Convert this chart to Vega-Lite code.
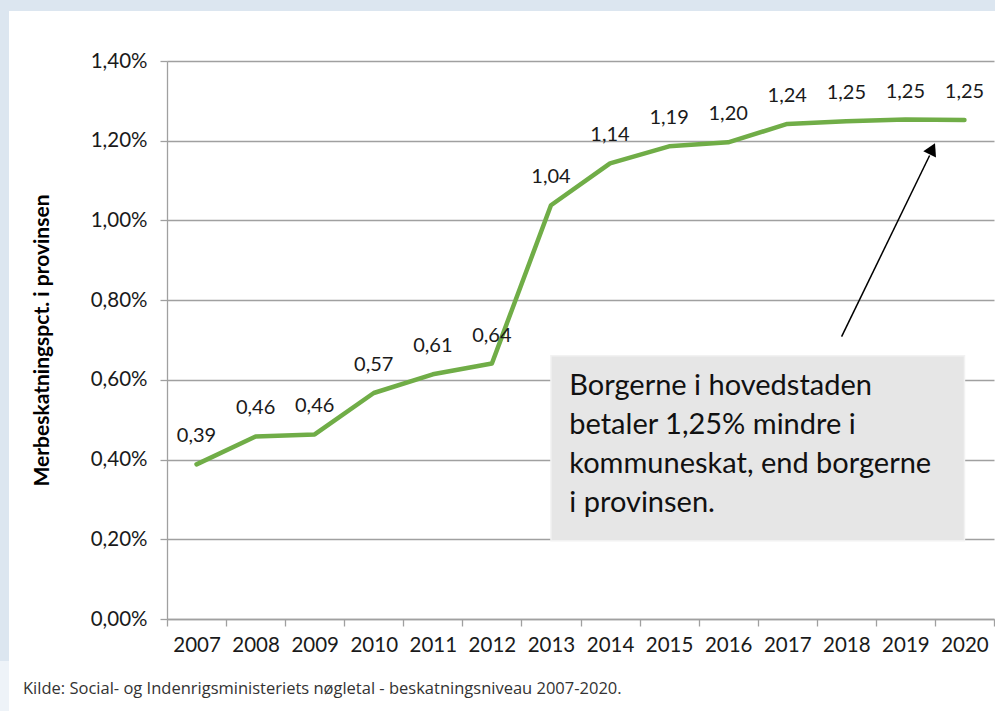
{
  "$schema": "https://vega.github.io/schema/vega-lite/v6.json",
  "width": 827,
  "height": 558,
  "autosize": "none",
  "padding": {"left": 167, "top": 61, "right": 1, "bottom": 92},
  "background": "white",
  "config": {
    "locale": {"number": {"decimal": ",", "thousands": ".", "grouping": [3], "currency": ["", " kr."]}},
    "font": "Lato",
    "view": {"stroke": null},
    "axis": {
      "labelFont": "Lato", "labelFontSize": 20.5, "labelColor": "#1a1a1a",
      "tickColor": "#a0a0a0", "domainColor": "#a0a0a0", "gridColor": "#a0a0a0",
      "tickWidth": 1.3, "domainWidth": 1.3, "gridWidth": 1.3, "tickSize": 7,
      "labelFlush": false, "labelOverlap": false, "labelBound": false
    }
  },
  "title": {
    "text": "Kilde: Social- og Indenrigsministeriets nøgletal - beskatningsniveau 2007-2020.",
    "orient": "bottom", "anchor": "start", "frame": "group",
    "dx": -144, "offset": -4, "dy": -26,
    "font": "Open Sans", "fontSize": 16.5, "fontWeight": "normal", "color": "#333333"
  },
  "layer": [
    {
      "data": {"values": [
        {"x1": 2003.673, "x2": 2020.517, "y1": 1.5530, "y2": 1.5254, "c": "a"},
        {"x1": 2003.673, "x2": 2003.825, "y1": 1.5530, "y2": -0.1054, "c": "a"},
        {"x1": 2003.673, "x2": 2003.825, "y1": -0.1054, "y2": -0.2308, "c": "b"}
      ]},
      "mark": {"type": "rect", "clip": false},
      "encoding": {
        "x": {"field": "x1", "type": "quantitative"},
        "x2": {"field": "x2"},
        "y": {"field": "y1", "type": "quantitative"},
        "y2": {"field": "y2"},
        "color": {"field": "c", "type": "nominal", "scale": {"domain": ["a", "b"], "range": ["#DCE6F0", "#EEF3F8"]}, "legend": null}
      }
    },
    {
      "data": {"values": [{"x1": 2013.0, "x2": 2020.0, "y1": 0.1965, "y2": 0.6606}]},
      "mark": {"type": "rect", "fill": "#E6E6E6", "stroke": "#F2F2F2", "strokeWidth": 1.5},
      "encoding": {
        "x": {"field": "x1", "type": "quantitative"},
        "x2": {"field": "x2"},
        "y": {"field": "y1", "type": "quantitative"},
        "y2": {"field": "y2"}
      }
    },
    {
      "data": {"values": [
        {"year": 2007, "value": 0.388},
        {"year": 2008, "value": 0.458},
        {"year": 2009, "value": 0.463},
        {"year": 2010, "value": 0.567},
        {"year": 2011, "value": 0.614},
        {"year": 2012, "value": 0.641},
        {"year": 2013, "value": 1.038},
        {"year": 2014, "value": 1.143},
        {"year": 2015, "value": 1.186},
        {"year": 2016, "value": 1.196},
        {"year": 2017, "value": 1.242},
        {"year": 2018, "value": 1.249},
        {"year": 2019, "value": 1.253},
        {"year": 2020, "value": 1.252}
      ]},
      "layer": [
        {
          "mark": {"type": "line", "color": "#70AD47", "strokeWidth": 4.5, "strokeCap": "round", "strokeJoin": "round"},
          "encoding": {
            "x": {
              "field": "year", "type": "quantitative",
              "scale": {"domain": [2006.5, 2020.5], "nice": false, "zero": false},
              "axis": {
                "title": null, "grid": false,
                "values": [2006.5, 2007.5, 2008.5, 2009.5, 2010.5, 2011.5, 2012.5, 2013.5, 2014.5, 2015.5, 2016.5, 2017.5, 2018.5, 2019.5, 2020.5],
                "labelExpr": "datum.value > 2020 ? '' : '' + (datum.value + 0.5)",
                "labelOffset": 29.54, "labelPadding": 9
              }
            },
            "y": {
              "field": "value", "type": "quantitative",
              "scale": {"domain": [0, 1.4], "nice": false},
              "axis": {
                "title": "Merbeskatningspct. i provinsen",
                "titleFont": "Lato", "titleFontSize": 21, "titleFontWeight": "bold", "titleColor": "#000000",
                "titlePadding": 38,
                "values": [0, 0.2, 0.4, 0.6, 0.8, 1.0, 1.2, 1.4],
                "format": ".2f",
                "labelExpr": "datum.label + '%'",
                "labelPadding": 13, "grid": true
              }
            }
          }
        },
        {
          "mark": {"type": "text", "dy": -28, "baseline": "middle", "align": "center", "fontSize": 20, "color": "#1a1a1a"},
          "encoding": {
            "x": {"field": "year", "type": "quantitative"},
            "y": {"field": "value", "type": "quantitative"},
            "text": {"field": "value", "type": "quantitative", "format": ".2f"}
          }
        }
      ]
    },
    {
      "data": {"values": [{"x": 2013.31, "y": 0.562, "note": "Borgerne i hovedstaden\nbetaler 1,25% mindre  i\nkommuneskat, end borgerne\ni provinsen."}]},
      "mark": {"type": "text", "align": "left", "baseline": "alphabetic", "fontSize": 29, "lineHeight": 39, "lineBreak": "\n", "color": "#111111"},
      "encoding": {
        "x": {"field": "x", "type": "quantitative"},
        "y": {"field": "y", "type": "quantitative"},
        "text": {"field": "note"}
      }
    },
    {
      "data": {"values": [{"x1": 2017.92, "y1": 0.7083, "x2": 2019.41, "y2": 1.1629}]},
      "mark": {"type": "rule", "color": "#000000", "strokeWidth": 1.5},
      "encoding": {
        "x": {"field": "x1", "type": "quantitative"},
        "y": {"field": "y1", "type": "quantitative"},
        "x2": {"field": "x2"},
        "y2": {"field": "y2"}
      }
    },
    {
      "data": {"values": [{"x": 2019.456, "y": 1.1797}]},
      "mark": {"type": "point", "shape": "triangle-up", "filled": true, "size": 200, "angle": 26, "color": "#000000", "opacity": 1},
      "encoding": {
        "x": {"field": "x", "type": "quantitative"},
        "y": {"field": "y", "type": "quantitative"}
      }
    }
  ]
}
